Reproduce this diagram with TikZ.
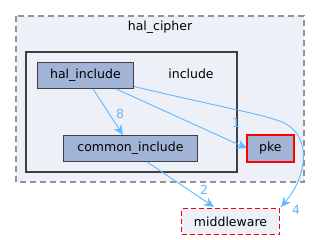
\documentclass[tikz,border=0pt]{standalone}
\usepackage{fontspec}
\setmainfont{DejaVu Sans}
\usetikzlibrary{arrows.meta}
\definecolor{edgec}{HTML}{63B8FF}
\definecolor{nodef}{HTML}{A2B4D6}
\definecolor{clf}{HTML}{EDF0F7}
\definecolor{dk}{HTML}{404040}
\definecolor{rd}{HTML}{FF0000}
\begin{document}
\begin{tikzpicture}[x=1pt,y=-1pt,
  every node/.style={font=\fontsize{12.5}{14}\selectfont, inner sep=0pt},
  dirbox/.style={fill=nodef, line width=0.9pt, minimum height=26pt, anchor=north west},
  dep/.style={draw=edgec, line width=0.9pt, -{Stealth[length=10pt,width=9pt]}},
  lbl/.style={text=edgec}]
\useasboundingbox (0,0) rectangle (324,240);
\fill[white] (0,0) rectangle (324,240);
% outer cluster
\draw[draw=gray!85, fill=clf, dashed, dash pattern=on 6pt off 4pt, line width=1.2pt] (16,16) rectangle (304,182);
\node (tcipher) at (160,27) {hal\_cipher};
% inner cluster
\draw[draw=dk, fill=clf, line width=1.8pt] (26,52) rectangle (237,172);
\node (tinclude) at (191,74) {include};
% nodes
\node[dirbox, draw=dk, minimum width=96pt] (hal) at (37,62) {hal\_include};
\node[dirbox, draw=dk, minimum width=134pt] (common) at (63,135) {common\_include};
\node[dirbox, minimum width=46pt] (pke) at (247,135) {pke};
\draw[rd, line width=1.3pt] (pke.north west) rectangle (pke.south east);
\node[dirbox, draw=rd, fill=clf, dashed, dash pattern=on 5pt off 3pt, line width=1.1pt, minimum width=98pt] (mw) at (181,208) {middleware};
% edges
\draw[dep] (hal.south west) ++(56,0) coordinate (h1) -- (123,135);
\node[lbl] (l8) at (120,114) {8};
\draw[dep] (hal.south west) ++(79,0) coordinate (h2) -- (pke.west);
\node[lbl] (l1) at (236,123) {1};
\draw[dep] (hal.east) ++(0,11) coordinate (h3) .. controls (220,107) and (262,114) .. (282,122) .. controls (314,136) and (306,178) .. (281,207);
\node[lbl] (l4) at (296,210) {4};
\draw[dep] (common.south west) ++(84,0) coordinate (c1) -- (214,207);
\node[lbl] (l2) at (204,190) {2};
\end{tikzpicture}
\end{document}
